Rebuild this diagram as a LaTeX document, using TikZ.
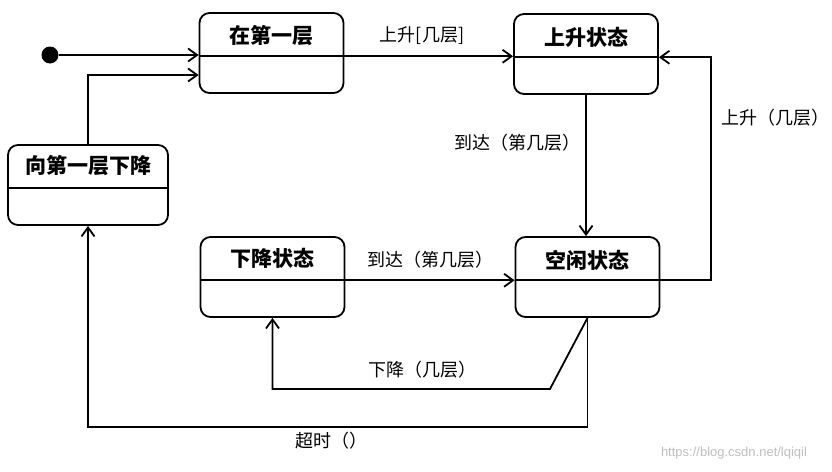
\documentclass[tikz,border=0pt]{standalone}
\usepackage{fontspec}
\setmainfont{Noto Sans CJK SC}
\newfontfamily\wmfont{Liberation Sans}
\usetikzlibrary{arrows.meta,calc}
\begin{document}
\begin{tikzpicture}[x=1pt,y=-1pt,
  line width=1.8pt,
  state/.style={draw, rounded corners=10pt, minimum width=144pt, minimum height=80pt, inner sep=0pt},
  titletext/.style={font=\fontsize{21}{21}\selectfont\bfseries, inner sep=0pt},
  lbl/.style={font=\fontsize{18}{18}\selectfont, inner sep=1pt},
  wm/.style={font=\wmfont\fontsize{13}{13}\selectfont, text=black!25, inner sep=0pt},
  arr/.style={-{Straight Barb[length=9pt,width=13pt]}}]
\useasboundingbox[fill=white] (0,0) rectangle (832,471);

% states
\node[state, minimum width=160pt] (s0) at (88,185) {};
\node[state] (s1) at (271.5,53) {};
\node[state] (s2) at (586,54) {};
\node[state] (s3) at (272.5,277) {};
\node[state] (s4) at (587.5,277) {};

\node[titletext] (s0t) at ([yshift=-21pt]s0.north) {向第一层下降};
\node[titletext] (s1t) at ([yshift=-23pt]s1.north) {在第一层};
\node[titletext] (s2t) at ([yshift=-24pt]s2.north) {上升状态};
\node[titletext] (s3t) at ([yshift=-22pt]s3.north) {下降状态};
\node[titletext] (s4t) at ([yshift=-24pt]s4.north) {空闲状态};

\foreach \s in {s0,s1,s2,s3,s4}{
  \coordinate (\s l) at ($(\s.north west)!0.54!(\s.south west)$);
  \coordinate (\s r) at ($(\s.north east)!0.54!(\s.south east)$);
  \draw (\s l) -- (\s r);
}

% initial state
\node[circle, fill=black, inner sep=0pt, minimum size=17pt] (init) at (50,55) {};

% connectors
\draw[arr] (init) -- (init -| s1.west);
\draw[arr] (s0.north) |- ($(s1.west)+(0,22)$);
\draw[arr] (s1r) -- (s1r -| s2.west);
\draw[arr] (s2.south) -- (s2.south |- s4.north);
\coordinate (rt) at (711,0);
\draw[arr] (s4r) -- (s4r -| rt) -- (rt |- s2r) -- (s2r);
\draw[arr] (s3r) -- (s3r -| s4.west);
\coordinate (kink) at (550,389);
\draw[arr] (s4.south) -- (kink) -| (s3.south);
\coordinate (bot) at (0,427);
\draw[arr] (s4.south) -- (s4.south |- bot) -| (s0.south);

% labels
\node[lbl] (l1) at (422,36) {上升[几层]};
\node[lbl] (l2) at (517,143) {到达（第几层）};
\node[lbl] (l3) at (775,118) {上升（几层）};
\node[lbl] (l4) at (430,260) {到达（第几层）};
\node[lbl] (l5) at (422,370) {下降（几层）};
\node[lbl] (l6) at (331,441) {超时（）};
\node[wm] (w) at (734,453) {https://blog.csdn.net/lqiqil};
\end{tikzpicture}
\end{document}
